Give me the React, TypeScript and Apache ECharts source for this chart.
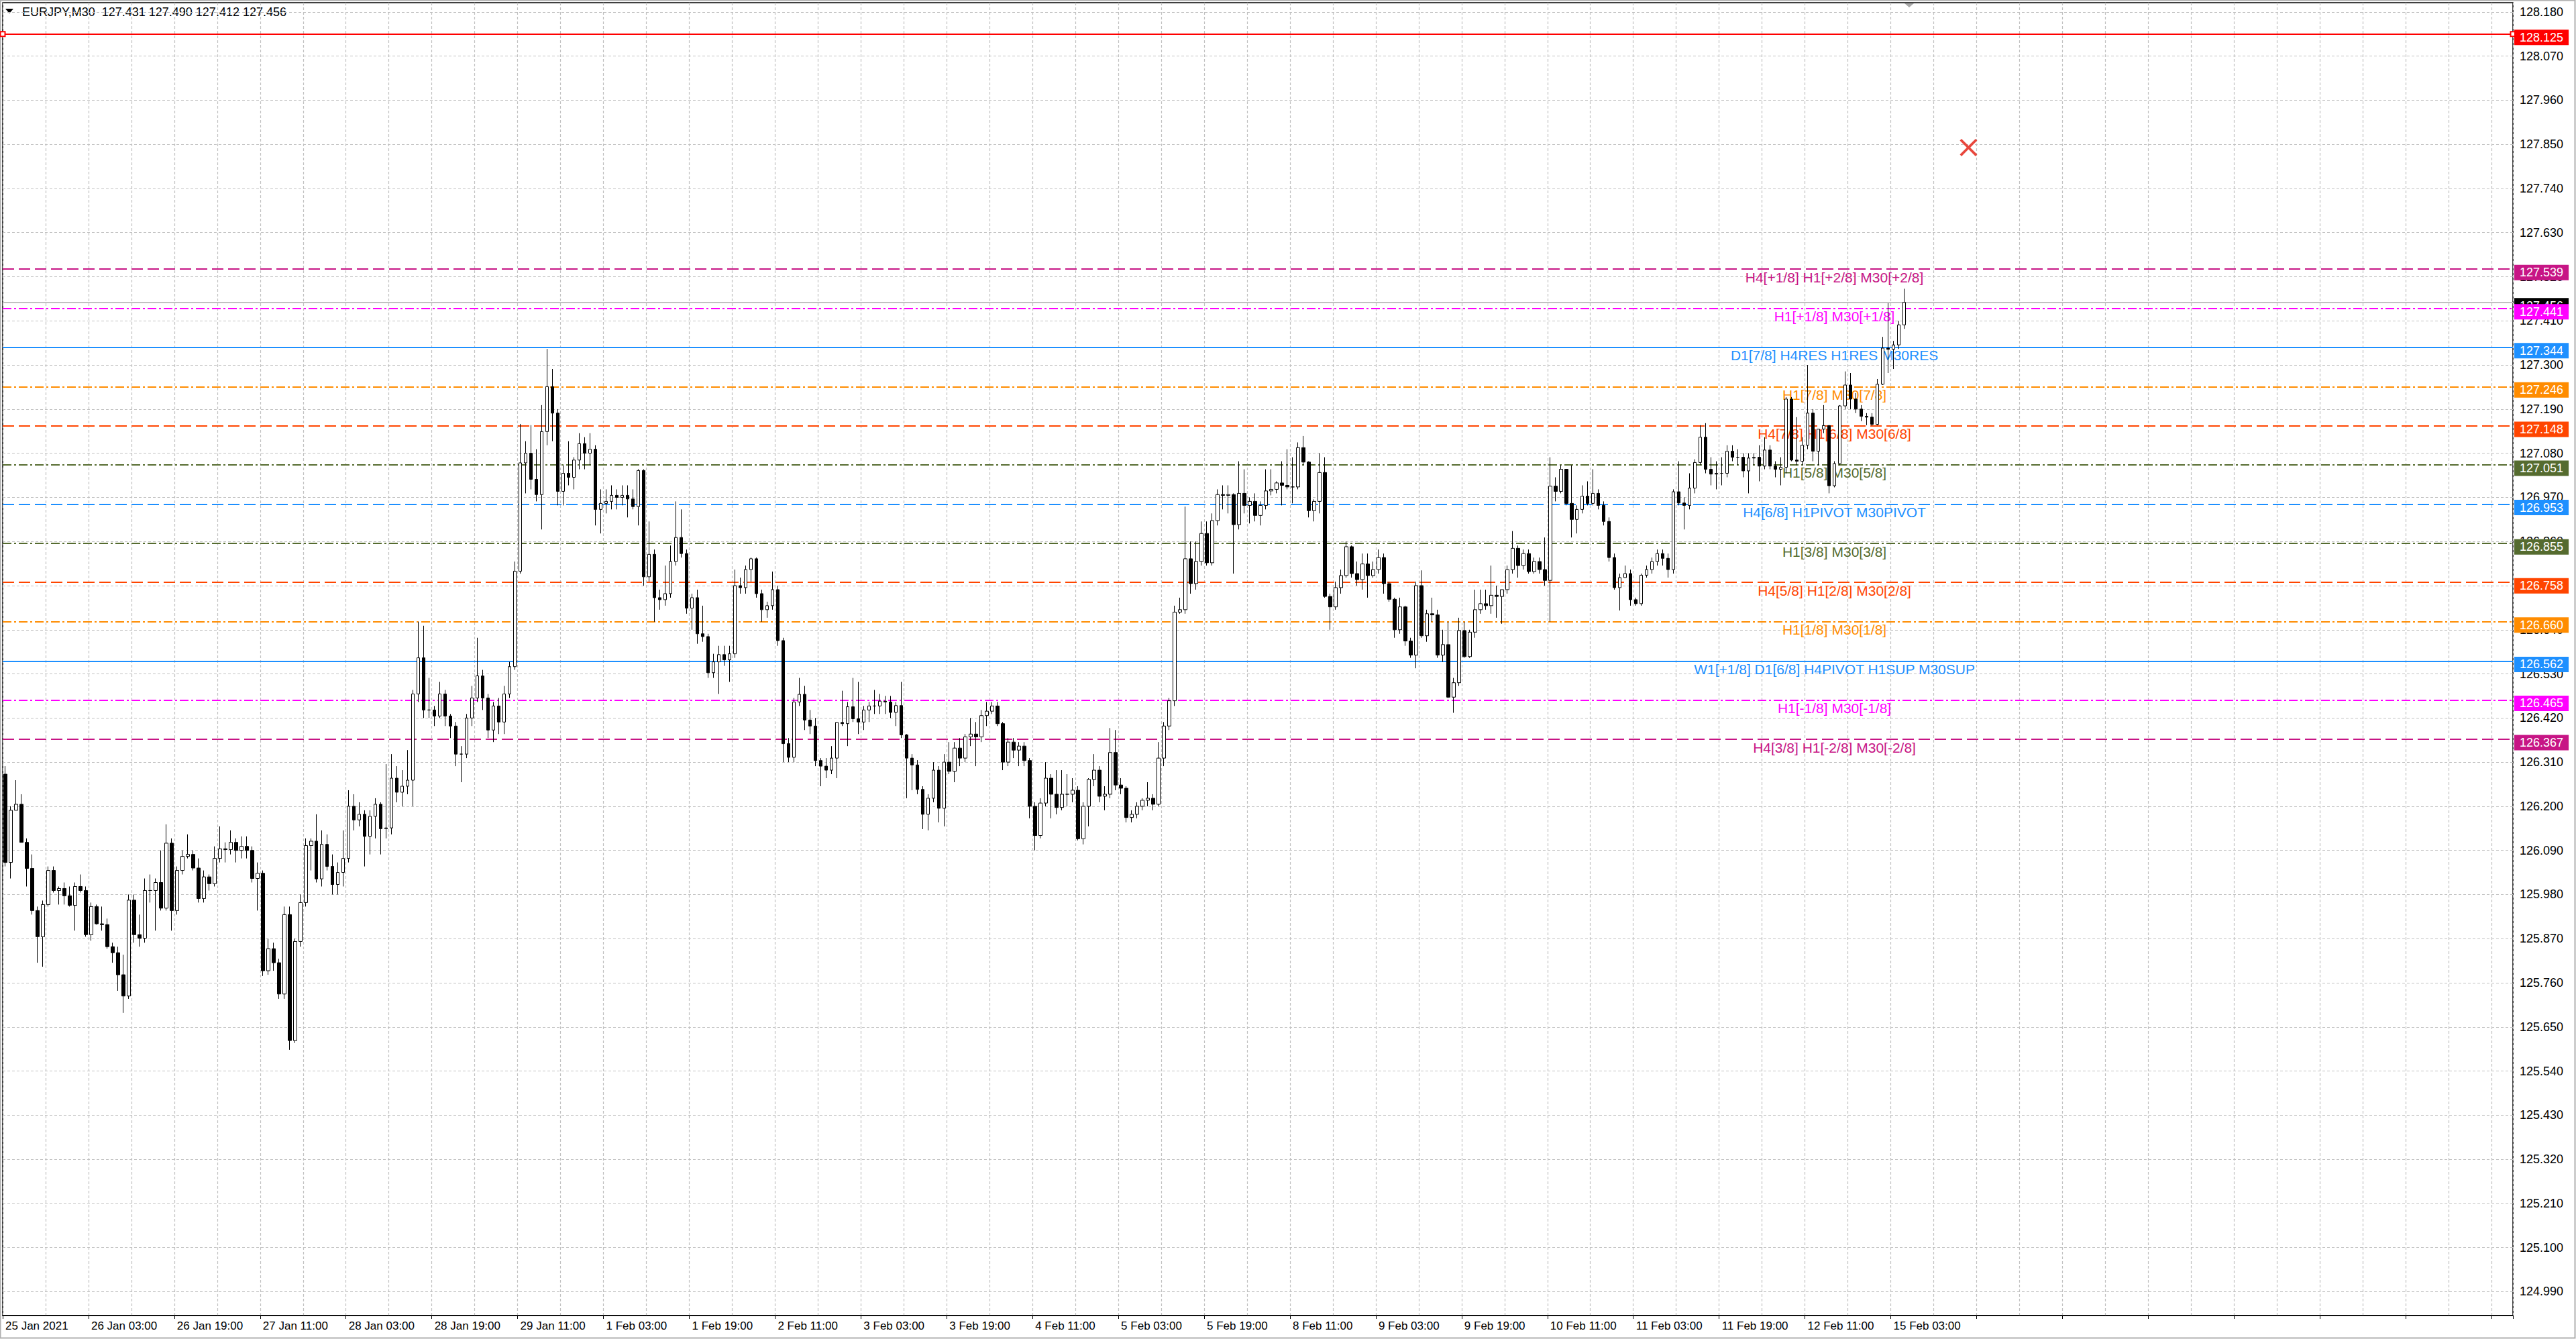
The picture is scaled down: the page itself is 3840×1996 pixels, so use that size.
import { useEffect, useRef } from 'react';
import * as echarts from 'echarts';

// hourly slots across the plot (the right part is the empty chart shift area)
const SLOTS = 468;
const categories = Array.from({ length: SLOTS }, (_, i) => String(i));

const firstOpen = 126.28;

// closes, one row per 8-hour grid cell
const closes = [
  [126.06, 126.19, 126.205, 126.11, 126.045, 125.94, 125.875, 125.955],
  [126.04, 125.99, 125.995, 125.977, 125.953, 126.0, 125.99, 125.88],
  [125.95, 125.907, 125.905, 125.85, 125.835, 125.78, 125.727, 125.966],
  [125.88, 125.871, 125.99, 125.99, 126.01, 125.946, 126.108, 125.94],
  [126.04, 126.075, 126.08, 126.046, 125.97, 126.024, 126.007, 126.07],
  [126.094, 126.092, 126.11, 126.09, 126.1, 126.09, 126.02, 126.033],
  [125.79, 125.845, 125.81, 125.732, 125.93, 125.616, 125.863, 125.96],
  [126.102, 126.113, 126.019, 126.105, 126.05, 126.005, 126.035, 126.07],
  [126.2, 126.166, 126.18, 126.125, 126.175, 126.205, 126.144, 126.146],
  [126.27, 126.235, 126.25, 126.265, 126.48, 126.57, 126.44, 126.44],
  [126.425, 126.48, 126.425, 126.4, 126.33, 126.33, 126.42, 126.47],
  [126.525, 126.47, 126.39, 126.45, 126.41, 126.48, 126.548, 126.786],
  [127.056, 127.08, 127.015, 126.977, 127.134, 127.246, 127.18, 126.985],
  [127.03, 127.02, 127.063, 127.104, 127.08, 127.09, 126.94, 126.955],
  [126.96, 126.975, 126.97, 126.975, 126.966, 126.947, 127.037, 126.772],
  [126.828, 126.72, 126.715, 126.73, 126.81, 126.87, 126.83, 126.694],
  [126.72, 126.63, 126.623, 126.533, 126.56, 126.578, 126.565, 126.58],
  [126.75, 126.745, 126.79, 126.817, 126.73, 126.69, 126.7, 126.74],
  [126.613, 126.356, 126.322, 126.46, 126.479, 126.415, 126.4, 126.314],
  [126.3, 126.29, 126.32, 126.409, 126.406, 126.448, 126.418, 126.41],
  [126.44, 126.45, 126.45, 126.462, 126.46, 126.434, 126.451, 126.378],
  [126.32, 126.303, 126.242, 126.18, 126.22, 126.29, 126.195, 126.31],
  [126.287, 126.345, 126.32, 126.373, 126.38, 126.373, 126.426, 126.437],
  [126.45, 126.406, 126.31, 126.36, 126.34, 126.35, 126.314, 126.2],
  [126.127, 126.208, 126.27, 126.23, 126.197, 126.23, 126.23, 126.24],
  [126.119, 126.2, 126.267, 126.29, 126.225, 126.23, 126.334, 126.253],
  [126.245, 126.172, 126.18, 126.2, 126.215, 126.22, 126.205, 126.32],
  [126.4, 126.463, 126.684, 126.69, 126.817, 126.755, 126.81, 126.88],
  [126.807, 126.912, 126.977, 126.975, 126.977, 126.902, 126.98, 126.95],
  [126.96, 126.925, 126.95, 126.986, 126.99, 127.006, 127.0, 126.996],
  [126.996, 127.094, 127.058, 126.937, 126.96, 127.032, 126.723, 126.697],
  [126.745, 126.775, 126.847, 126.78, 126.765, 126.804, 126.775, 126.79],
  [126.82, 126.755, 126.716, 126.64, 126.697, 126.612, 126.577, 126.75],
  [126.625, 126.68, 126.677, 126.577, 126.603, 126.472, 126.508, 126.638],
  [126.573, 126.634, 126.69, 126.705, 126.7, 126.726, 126.723, 126.74],
  [126.79, 126.843, 126.8, 126.83, 126.785, 126.81, 126.79, 126.763],
  [126.998, 126.985, 127.04, 126.955, 126.915, 126.94, 126.973, 126.955],
  [126.98, 126.95, 126.91, 126.82, 126.745, 126.77, 126.78, 126.715],
  [126.705, 126.776, 126.79, 126.81, 126.83, 126.818, 126.79, 126.984],
  [126.956, 126.95, 126.993, 127.057, 127.12, 127.04, 127.028, 127.03],
  [127.03, 127.085, 127.07, 127.07, 127.036, 127.068, 127.07, 127.048],
  [127.088, 127.048, 127.04, 127.045, 127.215, 127.063, 127.06, 127.1],
  [127.18, 127.085, 127.14, 127.149, 126.999, 127.054, 127.198, 127.25],
  [127.215, 127.19, 127.172, 127.17, 127.152, 127.252, 127.342, 127.339],
  [127.35, 127.4, 127.456],
].flat();

const highs = [
  [126.3, 126.2, 126.265, 126.23, 126.12, 126.08, 125.95, 125.965],
  [126.05, 126.05, 126.0, 126.01, 126.0, 126.01, 126.03, 126.0],
  [125.96, 125.955, 125.95, 125.92, 125.86, 125.85, 125.83, 125.98],
  [125.98, 125.93, 126.02, 126.03, 126.02, 126.09, 126.155, 126.12],
  [126.05, 126.09, 126.13, 126.09, 126.07, 126.04, 126.03, 126.1],
  [126.15, 126.11, 126.14, 126.12, 126.125, 126.125, 126.1, 126.06],
  [126.04, 125.87, 125.86, 125.82, 125.95, 125.95, 125.87, 125.98],
  [126.12, 126.12, 126.18, 126.14, 126.13, 126.08, 126.06, 126.14],
  [126.24, 126.23, 126.21, 126.19, 126.19, 126.22, 126.21, 126.305],
  [126.33, 126.3, 126.29, 126.34, 126.49, 126.66, 126.65, 126.52],
  [126.45, 126.51, 126.49, 126.43, 126.41, 126.35, 126.43, 126.5],
  [126.62, 126.54, 126.48, 126.46, 126.47, 126.5, 126.56, 126.81],
  [127.153, 127.11, 127.15, 127.09, 127.2, 127.34, 127.29, 127.19],
  [127.05, 127.11, 127.07, 127.13, 127.12, 127.13, 127.1, 126.99],
  [126.99, 127.0, 126.99, 127.0, 127.0, 126.99, 127.04, 127.04],
  [126.91, 126.84, 126.74, 126.8, 126.85, 126.96, 126.94, 126.84],
  [126.73, 126.74, 126.7, 126.63, 126.58, 126.6, 126.6, 126.6],
  [126.79, 126.77, 126.8, 126.82, 126.82, 126.74, 126.71, 126.785],
  [126.75, 126.62, 126.37, 126.47, 126.52, 126.5, 126.44, 126.42],
  [126.32, 126.32, 126.35, 126.41, 126.488, 126.46, 126.52, 126.51],
  [126.45, 126.46, 126.49, 126.48, 126.475, 126.475, 126.46, 126.51],
  [126.38, 126.33, 126.315, 126.25, 126.23, 126.31, 126.3, 126.33],
  [126.36, 126.36, 126.37, 126.38, 126.42, 126.41, 126.44, 126.46],
  [126.46, 126.46, 126.41, 126.37, 126.37, 126.36, 126.36, 126.32],
  [126.21, 126.22, 126.31, 126.28, 126.29, 126.29, 126.28, 126.27],
  [126.25, 126.21, 126.27, 126.33, 126.3, 126.25, 126.395, 126.39],
  [126.27, 126.25, 126.19, 126.21, 126.22, 126.26, 126.23, 126.36],
  [126.41, 126.47, 126.7, 126.72, 126.947, 126.86, 126.86, 126.91],
  [126.91, 126.93, 126.99, 127.0, 127.0, 126.98, 127.06, 127.04],
  [126.97, 126.98, 126.96, 127.04, 127.04, 127.01, 127.06, 127.09],
  [127.07, 127.107, 127.123, 127.06, 126.965, 127.08, 127.07, 126.73],
  [126.76, 126.79, 126.86, 126.85, 126.81, 126.83, 126.83, 126.81],
  [126.84, 126.83, 126.76, 126.72, 126.72, 126.7, 126.62, 126.76],
  [126.788, 126.69, 126.72, 126.69, 126.64, 126.66, 126.52, 126.67],
  [126.66, 126.64, 126.74, 126.74, 126.74, 126.8, 126.75, 126.74],
  [126.8, 126.886, 126.85, 126.84, 126.84, 126.82, 126.82, 126.87],
  [127.07, 127.02, 127.05, 127.04, 127.05, 126.95, 127.0, 127.01],
  [127.04, 126.99, 126.96, 126.92, 126.83, 126.78, 126.8, 126.79],
  [126.72, 126.78, 126.8, 126.82, 126.84, 126.84, 126.83, 126.99],
  [127.06, 126.97, 127.03, 127.065, 127.15, 127.155, 127.07, 127.06],
  [127.07, 127.1, 127.1, 127.09, 127.08, 127.08, 127.08, 127.1],
  [127.12, 127.1, 127.06, 127.07, 127.22, 127.22, 127.17, 127.12],
  [127.3, 127.19, 127.14, 127.2, 127.15, 127.06, 127.2, 127.284],
  [127.28, 127.23, 127.2, 127.18, 127.18, 127.265, 127.37, 127.454],
  [127.36, 127.41, 127.49],
].flat();

const lows = [
  [126.05, 126.02, 126.19, 126.11, 126.0, 125.93, 125.81, 125.8],
  [125.95, 125.985, 125.955, 125.955, 125.95, 125.89, 125.985, 125.875],
  [125.865, 125.905, 125.89, 125.845, 125.81, 125.74, 125.685, 125.72],
  [125.86, 125.85, 125.86, 125.96, 125.89, 125.94, 125.94, 125.89],
  [125.93, 126.03, 126.07, 126.04, 125.96, 125.96, 125.99, 126.0],
  [126.06, 126.06, 126.08, 126.06, 126.07, 126.07, 126.01, 125.94],
  [125.777, 125.78, 125.79, 125.72, 125.72, 125.593, 125.61, 125.85],
  [125.95, 126.04, 126.01, 126.0, 126.04, 125.98, 125.98, 126.0],
  [126.06, 126.14, 126.15, 126.05, 126.08, 126.12, 126.08, 126.12],
  [126.13, 126.21, 126.2, 126.23, 126.2, 126.46, 126.42, 126.42],
  [126.4, 126.42, 126.4, 126.37, 126.3, 126.26, 126.32, 126.4],
  [126.46, 126.44, 126.37, 126.36, 126.38, 126.38, 126.47, 126.54],
  [126.78, 126.98, 126.99, 126.96, 126.89, 127.1, 127.11, 126.95],
  [126.95, 127.0, 126.99, 127.04, 127.04, 127.05, 126.9, 126.88],
  [126.93, 126.94, 126.94, 126.95, 126.92, 126.94, 126.9, 126.75],
  [126.76, 126.66, 126.69, 126.7, 126.72, 126.8, 126.82, 126.68],
  [126.64, 126.605, 126.61, 126.52, 126.52, 126.48, 126.55, 126.51],
  [126.57, 126.73, 126.73, 126.76, 126.72, 126.66, 126.67, 126.69],
  [126.6, 126.31, 126.31, 126.31, 126.45, 126.39, 126.38, 126.3],
  [126.25, 126.27, 126.28, 126.27, 126.4, 126.35, 126.41, 126.38],
  [126.39, 126.41, 126.43, 126.43, 126.43, 126.42, 126.4, 126.37],
  [126.22, 126.24, 126.23, 126.143, 126.14, 126.21, 126.16, 126.15],
  [126.28, 126.26, 126.3, 126.31, 126.35, 126.3, 126.36, 126.4],
  [126.43, 126.4, 126.29, 126.3, 126.32, 126.3, 126.3, 126.17],
  [126.09, 126.12, 126.2, 126.17, 126.18, 126.19, 126.2, 126.21],
  [126.115, 126.105, 126.15, 126.25, 126.21, 126.19, 126.22, 126.24],
  [126.23, 126.16, 126.16, 126.17, 126.19, 126.2, 126.19, 126.2],
  [126.3, 126.39, 126.45, 126.68, 126.68, 126.73, 126.74, 126.8],
  [126.8, 126.8, 126.9, 126.94, 126.93, 126.78, 126.89, 126.93],
  [126.905, 126.91, 126.9, 126.94, 126.975, 126.98, 126.95, 126.99],
  [126.955, 126.99, 127.05, 126.92, 126.91, 126.93, 126.72, 126.64],
  [126.69, 126.73, 126.77, 126.77, 126.75, 126.74, 126.72, 126.77],
  [126.78, 126.73, 126.71, 126.62, 126.63, 126.6, 126.57, 126.544],
  [126.62, 126.61, 126.66, 126.57, 126.56, 126.47, 126.433, 126.5],
  [126.57, 126.57, 126.62, 126.68, 126.69, 126.68, 126.67, 126.655],
  [126.73, 126.78, 126.77, 126.79, 126.78, 126.78, 126.78, 126.75],
  [126.66, 126.96, 126.98, 126.95, 126.87, 126.88, 126.93, 126.95],
  [126.95, 126.94, 126.9, 126.81, 126.74, 126.688, 126.77, 126.7],
  [126.7, 126.7, 126.77, 126.78, 126.8, 126.8, 126.77, 126.78],
  [126.95, 126.89, 126.94, 126.98, 127.05, 127.03, 127.0, 126.99],
  [127.0, 127.02, 127.06, 127.05, 127.02, 126.98, 127.05, 127.01],
  [127.04, 127.04, 127.02, 127.0, 127.03, 127.06, 127.05, 127.05],
  [127.09, 127.06, 127.05, 127.13, 126.98, 126.995, 127.05, 127.19],
  [127.19, 127.18, 127.16, 127.15, 127.148, 127.15, 127.25, 127.28],
  [127.29, 127.34, 127.39],
].flat();

// one label every 16 slots
const xTickLabels = [
  '25 Jan 2021', '26 Jan 03:00', '26 Jan 19:00', '27 Jan 11:00', '28 Jan 03:00', '28 Jan 19:00',
  '29 Jan 11:00', '1 Feb 03:00', '1 Feb 19:00', '2 Feb 11:00', '3 Feb 03:00', '3 Feb 19:00',
  '4 Feb 11:00', '5 Feb 03:00', '5 Feb 19:00', '8 Feb 11:00', '9 Feb 03:00', '9 Feb 19:00',
  '10 Feb 11:00', '11 Feb 03:00', '11 Feb 19:00', '12 Feb 11:00', '15 Feb 03:00',
];

const yTicks = [
  128.18, 128.07, 127.96, 127.85, 127.74, 127.63, 127.52, 127.41, 127.3, 127.19,
  127.08, 126.97, 126.86, 126.75, 126.64, 126.53, 126.42, 126.31, 126.2, 126.09,
  125.98, 125.87, 125.76, 125.65, 125.54, 125.43, 125.32, 125.21, 125.1, 124.99,
];

const levelPrices = [
  127.539, 127.441, 127.344, 127.246, 127.148, 127.051, 126.953,
  126.855, 126.758, 126.66, 126.562, 126.465, 126.367,
];
const levelNames = [
  'H4[+1/8] H1[+2/8] M30[+2/8]',
  'H1[+1/8] M30[+1/8]',
  'D1[7/8] H4RES H1RES M30RES',
  'H1[7/8] M30[7/8]',
  'H4[7/8] H1[6/8] M30[6/8]',
  'H1[5/8] M30[5/8]',
  'H4[6/8] H1PIVOT M30PIVOT',
  'H1[3/8] M30[3/8]',
  'H4[5/8] H1[2/8] M30[2/8]',
  'H1[1/8] M30[1/8]',
  'W1[+1/8] D1[6/8] H4PIVOT H1SUP M30SUP',
  'H1[-1/8] M30[-1/8]',
  'H4[3/8] H1[-2/8] M30[-2/8]',
];
const levelColors = [
  '#C71585', '#FF00FF', '#1E90FF', '#FF8C00', '#FF4500', '#556B2F', '#1E90FF',
  '#556B2F', '#FF4500', '#FF8C00', '#1E90FF', '#FF00FF', '#C71585',
];
const levelStyles = [
  'dash', 'dashdot', 'solid', 'dashdot', 'dash', 'dashdot', 'dash',
  'dashdot', 'dash', 'dashdot', 'solid', 'dashdot', 'dash',
];
const levelTextSlot = 341;

const bidPrice = 127.456;
const alertPrice = 128.125;
const crossMark = [366, 127.842];

const title = 'EURJPY,M30\u00a0 127.431 127.490 127.412 127.456';
const FONT = '"Liberation Sans", Arial, sans-serif';

const dashTypes: Record<string, any> = {
  solid: 'solid',
  dash: [17, 7],
  dashdot: [13, 4, 3, 4],
};

export default function App() {
  const chartRef = useRef<HTMLDivElement>(null);

  useEffect(() => {
    if (!chartRef.current) return;
    const chart = echarts.init(chartRef.current, undefined, { renderer: 'svg' });

    const candleData = closes.map((c, i) => {
      const o = i === 0 ? firstOpen : closes[i - 1];
      return [o, c, Math.min(lows[i], o, c), Math.max(highs[i], o, c)];
    });

    // price tag in the right scale, sits a little below its line like in MT4
    const tagLabel = (color: string, value: number) => ({
      show: true,
      position: 'end',
      distance: 2,
      offset: [0, 5],
      formatter: value.toFixed(3),
      color: '#fff',
      backgroundColor: color,
      fontSize: 18,
      fontFamily: FONT,
      lineHeight: 20,
      padding: [2, 8, 1, 8],
    });

    const option = {
      animation: false,
      backgroundColor: '#fff',
      grid: {
        left: 4,
        right: 94,
        top: 4,
        bottom: 35,
        show: true,
        borderColor: '#000',
        borderWidth: 1.5,
        backgroundColor: '#fff',
      },
      xAxis: {
        type: 'category',
        data: categories,
        boundaryGap: true,
        axisLine: { show: true, lineStyle: { color: '#000', width: 1.5 } },
        axisTick: { show: true, interval: 15, length: 5, lineStyle: { color: '#000' } },
        axisLabel: {
          interval: 15,
          align: 'left',
          color: '#000',
          fontSize: 17,
          fontFamily: FONT,
          margin: 7,
          formatter: (_v: string, idx: number) => xTickLabels[idx / 16] ?? '',
        },
        splitLine: {
          show: true,
          interval: 7,
          lineStyle: { color: '#c0c0c0', type: [4, 3], width: 1.2 },
        },
      },
      yAxis: {
        type: 'value',
        position: 'right',
        min: 124.9306,
        max: 128.2031,
        scale: true,
        axisLabel: { show: false },
        axisLine: { show: false },
        axisTick: { show: false },
        splitLine: { show: false },
      },
      graphic: [
        {
          type: 'rect',
          shape: { x: 0.5, y: 0.5, width: 3838, height: 1994 },
          style: { fill: 'none', stroke: '#b0b0b0', lineWidth: 2 },
          silent: true,
        },
        {
          type: 'polygon',
          shape: { points: [[8, 13], [20, 13], [14, 20]] },
          style: { fill: '#000' },
        },
        {
          type: 'text',
          style: {
            text: title,
            x: 33,
            y: 18,
            fill: '#000',
            font: `18px ${FONT}`,
            verticalAlign: 'middle',
          },
        },
        {
          type: 'polygon',
          shape: { points: [[2839, 5], [2853, 5], [2846, 11]] },
          style: { fill: '#a8a8a8' },
        },
      ],
      series: [
        {
          name: 'ticks',
          type: 'line',
          data: [],
          clip: false,
          silent: true,
          z: 1,
          markLine: {
            z: 1,
            silent: true,
            symbol: 'none',
            precision: 3,
            lineStyle: { color: '#c0c0c0', type: [4, 3], width: 1.2 },
            label: {
              show: true,
              position: 'end',
              distance: 10,
              color: '#000',
              fontSize: 18,
              fontFamily: FONT,
            },
            data: yTicks.map(v => ({ yAxis: v, label: { formatter: v.toFixed(3) } })),
          },
        },
        {
          name: 'bid',
          type: 'line',
          data: [],
          clip: false,
          silent: true,
          z: 2,
          markLine: {
            z: 2,
            silent: true,
            symbol: 'none',
            precision: 3,
            data: [
              {
                yAxis: bidPrice,
                lineStyle: { color: '#c0c0c0', type: 'solid', width: 1.8 },
                label: tagLabel('#000', bidPrice),
              },
            ],
          },
        },
        {
          name: 'levels',
          type: 'line',
          data: [],
          clip: false,
          silent: true,
          z: 3,
          markLine: {
            z: 3,
            silent: true,
            symbol: 'none',
            precision: 3,
            data: levelPrices.map((p, i) => ({
              yAxis: p,
              lineStyle: { color: levelColors[i], type: dashTypes[levelStyles[i]], width: 1.8 },
              label: tagLabel(levelColors[i], p),
            })),
          },
        },
        {
          name: 'alert',
          type: 'line',
          data: [],
          clip: false,
          silent: true,
          z: 3,
          markLine: {
            z: 3,
            silent: true,
            symbol: ['emptyRect', 'emptyRect'],
            symbolSize: 7,
            precision: 3,
            data: [
              {
                yAxis: alertPrice,
                lineStyle: { color: '#ff0000', type: 'solid', width: 1.8 },
                label: tagLabel('#ff0000', alertPrice),
              },
            ],
          },
        },
        {
          name: 'levelText',
          type: 'scatter',
          z: 3,
          silent: true,
          symbolSize: 1,
          itemStyle: { color: 'rgba(0,0,0,0)', opacity: 1 },
          label: {
            show: true,
            position: 'bottom',
            distance: 1,
            fontSize: 21,
            fontFamily: FONT,
            formatter: '{b}',
          },
          data: levelPrices.map((p, i) => ({
            name: levelNames[i],
            value: [levelTextSlot, p],
            label: { color: levelColors[i] },
          })),
        },
        {
          name: 'EURJPY',
          type: 'candlestick',
          z: 4,
          barWidth: 5,
          data: candleData,
          itemStyle: {
            color: '#ffffff',
            color0: '#000000',
            borderColor: '#000000',
            borderColor0: '#000000',
            borderWidth: 1,
          },
        },
        {
          name: 'cross',
          type: 'scatter',
          z: 5,
          silent: true,
          symbol:
            'path://M2,0 L10,8 L18,0 L20,2 L12,10 L20,18 L18,20 L10,12 L2,20 L0,18 L8,10 L0,2 Z',
          symbolSize: 26,
          itemStyle: { color: '#e8463c', opacity: 1 },
          data: [crossMark],
        },
      ],
    };

    chart.setOption(option as any);

    const handleResize = () => chart.resize();
    window.addEventListener('resize', handleResize);
    return () => {
      window.removeEventListener('resize', handleResize);
      chart.dispose();
    };
  }, []);

  return (
    <div
      ref={chartRef}
      style={{ position: 'fixed', left: 0, top: 0, width: '3840px', height: '1996px', background: '#fff' }}
    />
  );
}
